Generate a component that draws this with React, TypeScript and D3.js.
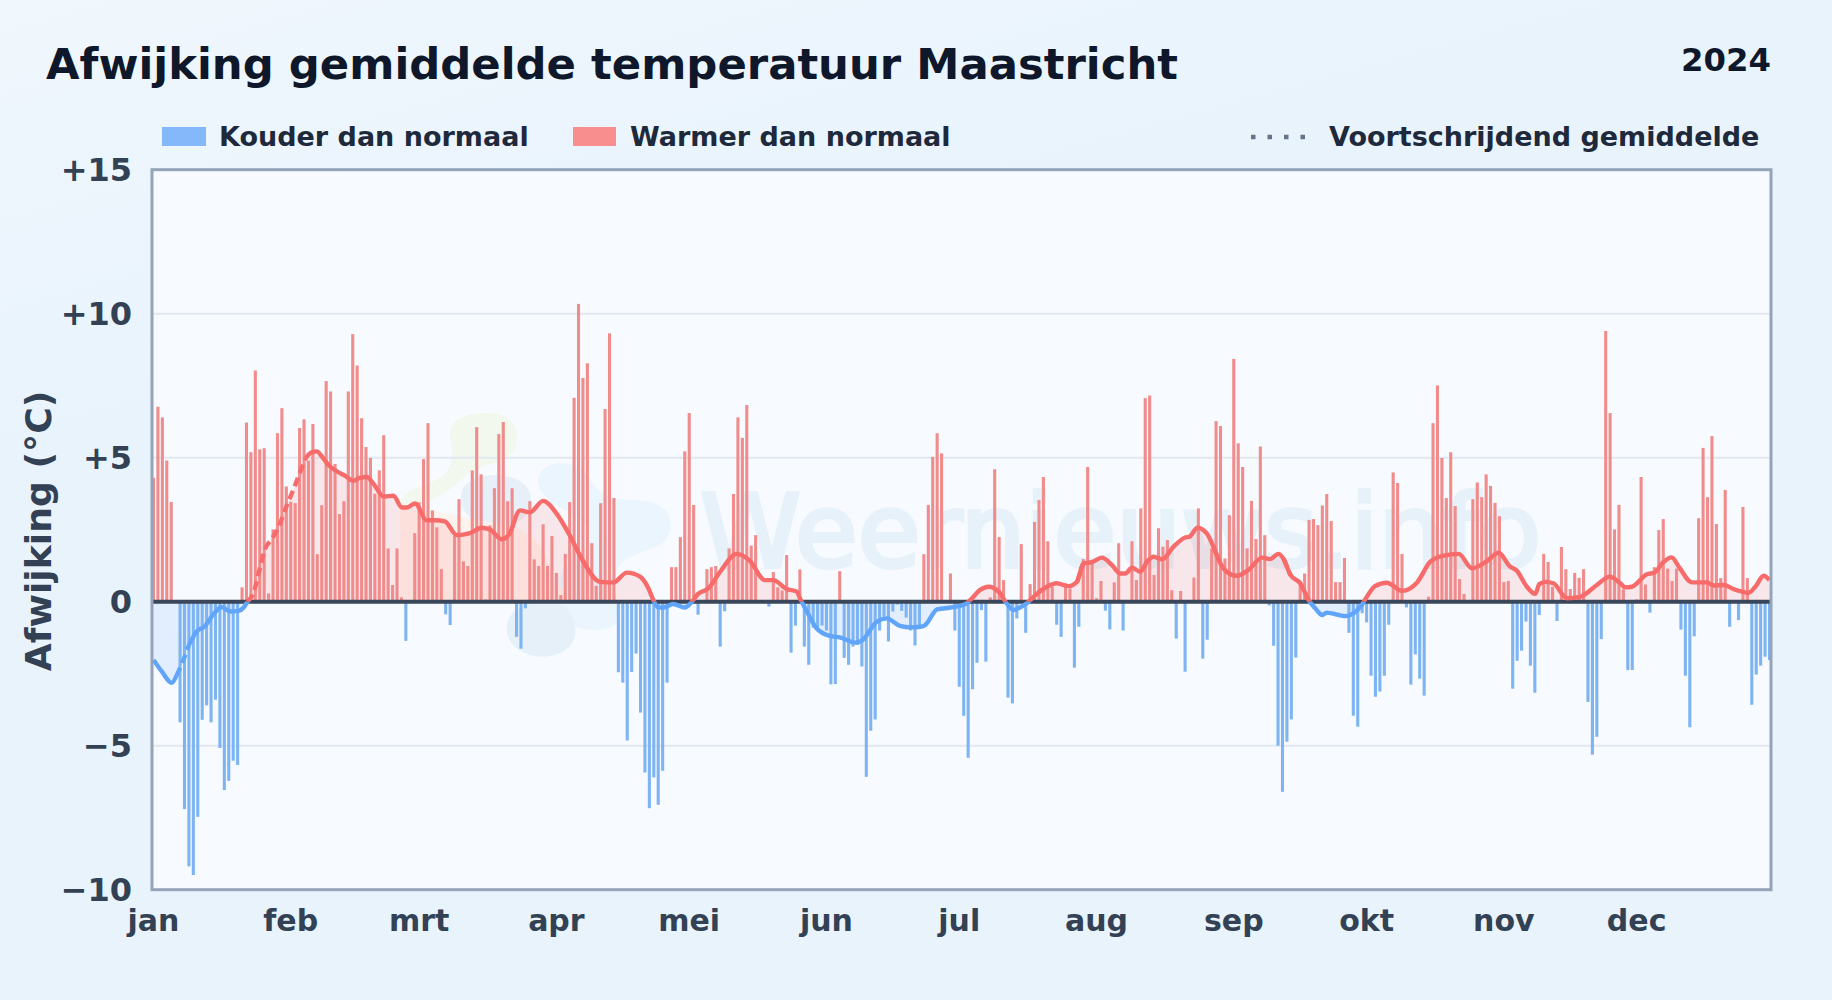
import React, { useEffect, useRef } from "react";
import * as d3 from "d3";

const monthNames = ["jan", "feb", "mrt", "apr", "mei", "jun", "jul", "aug", "sep", "okt", "nov", "dec"];
const monthStarts = [0, 31, 60, 91, 121, 152, 182, 213, 244, 274, 305, 335];
const yTicks = [-10, -5, 0, 5, 10, 15];

// daily deviation from normal, 1 jan - 31 dec
const deviations = [
  4.3, 6.77, 6.4, 4.9, 3.46, 0, -4.19, -7.2, -9.19, -9.49, -7.47, -4.1, -3.6, -4.19, -3.4, -5.08,
  -6.54, -6.22, -5.52, -5.67, 0.5, 6.22, 5.19, 8.03, 5.29, 5.33, 0.29, 2.51, 5.85, 6.72, 4.0,
  3.47, 3.42, 6.03, 6.33, 4.9, 6.17, 1.65, 3.35, 7.66, 7.3, 4.78, 3.04, 3.49, 7.3, 9.29, 8.2,
  6.37, 5.37, 4.99, 3.75, 4.56, 5.78, 1.85, 0.58, 1.85, 0.15, -1.36, 0, 2.38,
  3.45, 4.95, 6.2, 3.17, 2.58, 1.13, -0.44, -0.81, 2.3, 3.56, 1.4, 1.24, 4.56, 6.06, 4.42, 0.08,
  2.65, 3.94, 5.82, 6.24, 3.49, 3.94, -1.22, -1.63, -0.23, 3.49, 1.47, 1.24, 2.69, 1.24, 2.28,
  1.0, 0.23, 1.66, 3.46, 7.08, 10.34, 7.77, 8.28, 2.03, 0.55, 3.42, 6.69, 9.32, 3.6, -2.45, -2.81,
  -4.82, -2.44, -1.8, -3.85, -5.93, -7.17, -6.1, -7.05, -5.87, -2.81, 1.2, 1.2, 2.24, 5.22,
  6.55, 3.36, -0.45, 0, 1.13, 1.2, 1.24, -1.56, -0.33, 1.85, 3.74, 6.4, 5.69, 6.83, 1.95, 2.31,
  0, 0, -0.17, 1.03, 0.5, 0.39, 1.62, -1.77, -0.83, 1.12, -1.56, -2.19, -0.9, -0.9, -0.83, -1.0,
  -2.87, -2.86, 1.06, -1.95, -2.19, -1.56, -1.5, -2.25, -6.08, -4.48, -4.09, -1.0, -0.58, -1.38,
  -0.34, -0.1, -0.32, -0.55, -1.0, -1.52, -0.83, 1.65, 3.36, 5.03, 5.85, 5.15, 0, 0.98,
  -1.0, -2.95, -3.96, -5.42, -3.04, -2.12, -0.29, -2.08, 0.15, 4.6, 2.25, 0.75, -3.33, -3.53, -0.58,
  2.0, -1.08, 0.61, 2.77, 3.53, 4.33, 2.1, 0.52, -0.8, -1.22, 0.64, 0.46, -2.29, -0.87, 1.48,
  4.68, 1.45, 0.12, 0.72, -0.31, -0.96, 0.67, 2.03, -1.0, 0, 2.1, 0.75, 3.24, 7.07, 7.16, 0.93,
  2.55, 1.91, 2.14, 0.4, -1.28, 0.37, -2.43, 0, 0.84, 3.24, -1.98, -1.32, 1.85, 6.27, 6.1, 1.5,
  3.0, 8.43, 5.5, 4.68, 1.85, 3.5, 2.18, 5.39, 2.31, -0.13, -1.53, -5.0, -6.6, -4.86, -4.09, -1.94,
  0.7, 0.98, 2.84, 2.87, 2.66, 3.34, 3.74, 2.8, 0.68, 0.68, 1.52, -1.08, -3.96, -4.34, -0.4, -0.72,
  -2.57, -3.3, -3.12, -2.57, -0.8, 4.49, 4.12, 1.66, -0.2, -2.88, -1.83, -2.67, -3.26, 0.17, 6.2,
  7.51, 4.99, 3.6, 5.19, 3.32, 0.79, 0.27, 0, 3.56, 4.14, 3.63, 4.42, 4.02, 3.43, 2.97, 0.68, 0.72,
  -3.02, -2.05, -1.7, -0.69, -2.22, -3.16, -0.46, 1.66, 1.38, 0.52, -0.67, 1.9, 1.13, 0.44, 1.0,
  0.83, 1.13, -3.48, -5.31, -4.69, -1.3, 9.4, 6.55, 2.51, 3.36, 0.43, -2.37, -2.37, 0.08, 4.33, 0.6,
  -0.38, 1.2, 2.49, 2.87, 1.15, 0.72, 1.15, -0.97, -2.57, -4.36, -1.2, 2.9, 5.34, 3.63, 5.75, 2.7,
  0.82, 3.88, -0.87, 0, -0.64, 3.29, 0.82, -3.58, -2.53, -2.22, -1.91, -2.03,
];

// moving average
const avgDays = [
  0, 1.9, 4.1, 5.2, 6.4, 8.1, 9.8, 11.6, 13.5, 15.4, 17.3, 19.2, 20.4, 21.2, 22.6, 24, 25.2, 26.7,
  28.2, 30.1, 31.6, 33.1, 34.4, 35.7, 36.9, 38, 39.5, 41.4, 43.3, 45.1, 46.6, 48.2, 49.7, 52, 54.2,
  56.1, 57.2, 59.1, 61.7, 63.6, 65.8, 68.5, 71.5, 74.1, 76, 78.6, 80.2, 82.8, 85, 88, 91, 94, 96.7,
  100.9, 103.9, 106.9, 109.9, 111.8, 112.9, 114, 115.2, 117.4, 120, 121.6, 123, 125.3, 128, 131.7,
  134.7, 138.1, 140, 143, 145.3, 146, 147.2, 149.8, 152.8, 155, 158.5, 160, 163.4, 165.6, 168.6,
  171, 173.2, 174.3, 177, 180.3, 183.3, 184.5, 186.7, 188.6, 190.9, 192.7, 194.2, 195.7, 197.2,
  199.2, 201.8, 204, 206.7, 208.6, 210, 211.9, 214.2, 216.5, 218.3, 219.5, 221, 222.9, 224.4, 225.9,
  227.8, 230.4, 233, 234, 235.8, 237.9, 239.4, 240.6, 242.4, 244.7, 247.3, 250.4, 252.2, 254.1,
  255.2, 256.8, 259, 260.9, 262.4, 264, 265, 269.2, 272.9, 273.7, 275.9, 278.6, 282, 285.4, 288.4,
  291.4, 294.8, 297.8, 301.2, 303.8, 306.4, 307.9, 310.2, 312.1, 313, 314.4, 316.2, 319.2, 322.2,
  326, 328.9, 331.3, 332.4, 333.9, 337.3, 339, 341, 342.9, 344.5, 347.5, 350.9, 352.4, 354.7, 357,
  360.3, 361.8, 363.7, 365,
];
const avgValues = [
  -2.02, -2.43, -2.82, -2.57, -2.16, -1.47, -1.03, -0.85, -0.44, -0.19, -0.34, -0.32, -0.2, 0, 0.32,
  1.14, 1.83, 2.17, 2.58, 3.34, 3.89, 4.5, 4.99, 5.19, 5.22, 5.05, 4.75, 4.53, 4.37, 4.2, 4.3, 4.33,
  4.09, 3.65, 3.68, 3.27, 3.27, 3.41, 2.83, 2.83, 2.79, 2.31, 2.38, 2.57, 2.51, 2.17, 2.31, 3.17, 3.1,
  3.5, 3.07, 2.31, 1.5, 0.69, 0.67, 1.01, 0.87, 0.46, 0.06, -0.2, -0.2, -0.08, -0.2, 0, 0.27, 0.46,
  1.04, 1.66, 1.42, 0.75, 0.75, 0.44, 0.35, 0.12, -0.23, -0.93, -1.19, -1.24, -1.42, -1.35, -0.69,
  -0.58, -0.84, -0.89, -0.87, -0.81, -0.27, -0.2, -0.09, 0.06, 0.41, 0.52, 0.35, -0.06, -0.29, -0.2,
  -0.06, 0.23, 0.52, 0.64, 0.54, 0.69, 1.33, 1.37, 1.53, 1.27, 0.98, 0.98, 1.18, 1.04, 1.39, 1.56,
  1.47, 1.91, 2.23, 2.26, 2.57, 2.37, 1.91, 1.45, 1.04, 0.9, 1.1, 1.53, 1.48, 1.66, 1.5, 0.93, 0.64,
  0.06, -0.23, -0.46, -0.38, -0.5, -0.12, 0.08, 0.54, 0.66, 0.38, 0.67, 1.39, 1.6, 1.66, 1.16, 1.41,
  1.7, 1.22, 1.08, 0.52, 0.27, 0.61, 0.69, 0.64, 0.12, 0.17, 0.58, 0.87, 0.64, 0.5, 0.52, 0.95, 1.01,
  1.37, 1.54, 1.22, 0.67, 0.67, 0.56, 0.58, 0.43, 0.31, 0.52, 0.9, 0.75,
];
const dashedRanges = [[5.2, 8.1], [21.2, 34.4], [208.6, 210], [239.4, 240.6], [255.2, 256.8]];

const W = 1832;
const H = 1000;
const left = 152;
const right = 1771;
const top = 169.7;
const bottom = 889.7;
const FONT = "'DejaVu Sans', sans-serif";
const RED = "#f76b6b";
const BLUE = "#60a5fa";

export default function App() {
  const ref = useRef<SVGSVGElement>(null);

  useEffect(() => {
    const svg = d3.select(ref.current);
    svg.selectAll("*").remove();

    const x = d3.scaleLinear().domain([0, 365]).range([153.5, 1769.5]);
    const y = d3.scaleLinear().domain([-10, 15]).range([bottom, top]);

    const defs = svg.append("defs");
    const grad = defs.append("linearGradient").attr("id", "bg").attr("x1", 0).attr("y1", 0).attr("x2", 0.2).attr("y2", 0.4);
    grad.append("stop").attr("offset", 0).attr("stop-color", "#f0f7fd");
    grad.append("stop").attr("offset", 1).attr("stop-color", "#e8f3fc");
    defs.append("clipPath").attr("id", "plot").append("rect")
      .attr("x", left).attr("y", top).attr("width", right - left).attr("height", bottom - top);
    defs.append("clipPath").attr("id", "above").append("rect")
      .attr("x", left).attr("y", top).attr("width", right - left).attr("height", y(0) - top);
    defs.append("clipPath").attr("id", "below").append("rect")
      .attr("x", left).attr("y", y(0)).attr("width", right - left).attr("height", bottom - y(0));

    svg.append("rect").attr("width", W).attr("height", H).attr("fill", "url(#bg)");
    svg.append("rect").attr("x", left).attr("y", top).attr("width", right - left).attr("height", bottom - top)
      .attr("fill", "#f7fbff");

    // watermark logo and name
    const mark = svg.append("g").attr("clip-path", "url(#plot)");
    const blobs: [string, string][] = [
      ["M450 440 C445 418 470 412 490 413 C512 414 520 428 516 446 C510 462 490 462 470 472 C450 490 440 500 400 510 C398 490 420 488 440 478 C452 470 455 455 450 440 Z", "#f2f8ee"],
      ["M462 490 C470 472 510 470 525 485 C538 500 530 520 510 525 C480 530 455 515 462 490 Z", "#e7f0f9"],
      ["M538 480 C540 460 575 455 590 480 C600 495 610 500 640 500 C672 502 680 530 660 545 C640 555 620 555 615 575 C610 595 625 610 615 625 C600 635 565 630 550 610 C530 590 590 550 590 540 C590 510 540 510 538 480 Z", "#ebf5fd"],
      ["M507 625 C510 600 560 590 572 615 C585 645 560 660 535 656 C515 652 505 640 507 625 Z", "#e6f0f8"],
      ["M400 510 C425 505 470 520 505 525 C530 530 545 545 550 570 C560 590 570 600 575 602 L400 602 Z", "#fcf3ee"],
    ];
    blobs.forEach(([d, fill]) => mark.append("path").attr("d", d).attr("fill", fill));
    mark.append("text").attr("x", 700).attr("y", 567)
      .attr("font-family", FONT).attr("font-size", 102)
      .attr("fill", "#e6f1fa").attr("stroke", "#e6f1fa").attr("stroke-width", 4)
      .text("Weernieuws.info");

    // grid
    svg.append("g").selectAll("line").data(yTicks.filter((d) => d !== 0 && d !== 15 && d !== -10)).enter().append("line")
      .attr("x1", left).attr("x2", right).attr("y1", (d) => y(d)).attr("y2", (d) => y(d))
      .attr("stroke", "#e2e8f0").attr("stroke-width", 2);

    // area between moving average and zero
    const knots = avgDays.map((d, i) => [d, avgValues[i]] as [number, number]);
    const area = d3.area<[number, number]>().x((d) => x(d[0])).y0(y(0)).y1((d) => y(d[1])).curve(d3.curveMonotoneX);
    svg.append("path").attr("d", area(knots)).attr("clip-path", "url(#above)").attr("fill", "#f87171").attr("opacity", 0.14);
    svg.append("path").attr("d", area(knots)).attr("clip-path", "url(#below)").attr("fill", "#60a5fa").attr("opacity", 0.14);

    // daily bars
    svg.append("g").attr("clip-path", "url(#plot)")
      .selectAll("rect").data(deviations).enter().append("rect")
      .attr("x", (_, i) => x(i) - 1.55)
      .attr("width", 3.1)
      .attr("y", (d) => (d > 0 ? y(d) : y(0)))
      .attr("height", (d) => Math.abs(y(d) - y(0)))
      .attr("fill", (d) => (d > 0 ? "#f08c8c" : "#7eb4f1"));

    // zero line
    svg.append("line").attr("x1", left).attr("x2", right).attr("y1", y(0)).attr("y2", y(0))
      .attr("stroke", "#3a4659").attr("stroke-width", 4);

    // moving average: solid with dashed stretches
    const line = d3.line<[number, number]>().x((d) => x(d[0])).y((d) => y(d[1])).curve(d3.curveMonotoneX);
    const isDashed = (d: number) => dashedRanges.some(([a, b]) => d > a && d < b);
    const solidPart = line.defined((d) => !isDashed(d[0]))(knots);
    const dashedParts = dashedRanges.map(([a, b]) => knots.filter((d) => d[0] >= a && d[0] <= b));
    const plain = d3.line<[number, number]>().x((d) => x(d[0])).y((d) => y(d[1])).curve(d3.curveMonotoneX);
    ([["above", RED], ["below", BLUE]] as const).forEach(([clip, color]) => {
      const g = svg.append("g").attr("clip-path", `url(#${clip})`).attr("fill", "none")
        .attr("stroke", color).attr("stroke-width", 4.4).attr("stroke-linejoin", "round");
      g.append("path").attr("d", solidPart);
      dashedParts.forEach((part) => {
        g.append("path").attr("d", plain(part)).attr("stroke-dasharray", "9 5");
      });
    });

    // frame
    svg.append("rect").attr("x", left).attr("y", top).attr("width", right - left).attr("height", bottom - top)
      .attr("fill", "none").attr("stroke", "#94a3b8").attr("stroke-width", 3);

    // axes labels
    const tickFmt = (d: number) => (d > 0 ? `+${d}` : d < 0 ? `\u2212${-d}` : "0");
    svg.append("g").selectAll("text").data(yTicks).enter().append("text")
      .attr("x", 132).attr("y", (d) => y(d) + 11)
      .attr("text-anchor", "end").attr("font-family", FONT).attr("font-weight", "bold")
      .attr("font-size", 32).attr("fill", "#334155").text(tickFmt);
    svg.append("g").selectAll("text").data(monthNames).enter().append("text")
      .attr("x", (_, i) => x(monthStarts[i])).attr("y", 931)
      .attr("text-anchor", "middle").attr("font-family", FONT).attr("font-weight", "bold")
      .attr("font-size", 30).attr("fill", "#334155").text((d) => d);
    svg.append("text").attr("transform", "translate(51,531) rotate(-90)")
      .attr("text-anchor", "middle").attr("font-family", FONT).attr("font-weight", "bold")
      .attr("font-size", 36.2).attr("fill", "#334155").text("Afwijking (°C)");

    // title
    svg.append("text").attr("x", 46).attr("y", 79).attr("font-family", FONT).attr("font-weight", "bold")
      .attr("font-size", 43.35).attr("fill", "#0f172a").text("Afwijking gemiddelde temperatuur Maastricht");
    svg.append("text").attr("x", 1771).attr("y", 71).attr("text-anchor", "end").attr("font-family", FONT)
      .attr("font-weight", "bold").attr("font-size", 32.3).attr("fill", "#0f172a").text("2024");

    // legend
    const legend = svg.append("g").attr("font-family", FONT).attr("font-weight", "bold")
      .attr("font-size", 27).attr("fill", "#1e293b");
    legend.append("rect").attr("x", 162).attr("y", 127).attr("width", 44).attr("height", 19).attr("fill", "#85b8fb");
    legend.append("text").attr("x", 219).attr("y", 146).text("Kouder dan normaal");
    legend.append("rect").attr("x", 573).attr("y", 127).attr("width", 43).attr("height", 19).attr("fill", "#f98e8e");
    legend.append("text").attr("x", 630).attr("y", 146).text("Warmer dan normaal");
    legend.append("line").attr("x1", 1251).attr("x2", 1308).attr("y1", 137).attr("y2", 137)
      .attr("stroke", "#64748b").attr("stroke-width", 4.5).attr("stroke-dasharray", "4.5 12");
    legend.append("text").attr("x", 1329).attr("y", 146).text("Voortschrijdend gemiddelde");
  }, []);

  return <svg ref={ref} width={W} height={H} style={{ position: "absolute", left: 0, top: 0 }} />;
}
